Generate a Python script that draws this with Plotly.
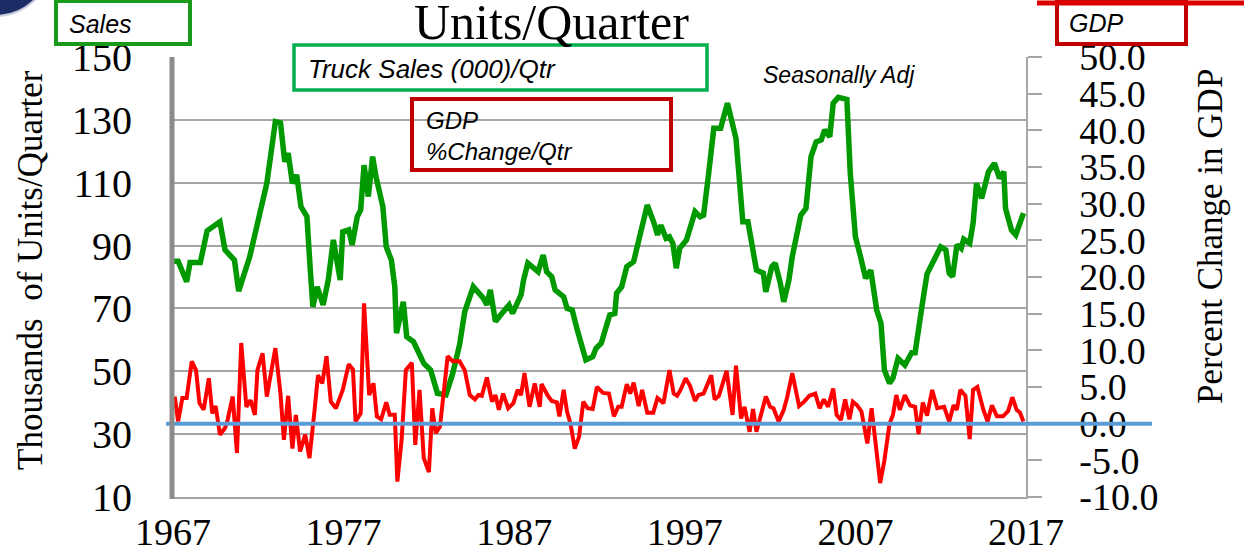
import plotly.graph_objects as go

# Truck sales, thousands of units per quarter (left axis)
truck_year = [
    1967.0, 1967.3, 1967.8, 1968.0, 1968.6, 1969.0, 1969.75, 1970.05, 1970.6, 1970.85,
    1971.5, 1972.1, 1972.5, 1973.0, 1973.3, 1973.55, 1973.75, 1974.0, 1974.25, 1974.5,
    1974.85, 1975.05, 1975.2, 1975.45, 1975.8, 1976.1, 1976.4, 1976.8, 1976.95, 1977.3,
    1977.5, 1977.8, 1978.0, 1978.2, 1978.45, 1978.7, 1978.9, 1979.3, 1979.5, 1979.8,
    1980.0, 1980.1, 1980.5, 1980.7, 1981.1, 1981.7, 1982.1, 1982.5, 1983.0, 1983.4,
    1983.8, 1984.1, 1984.6, 1985.2, 1985.4, 1985.6, 1985.9, 1986.2, 1986.7, 1986.9,
    1987.4, 1987.55, 1987.8, 1988.4, 1988.7, 1988.9, 1989.2, 1989.4, 1989.9, 1990.1,
    1990.4, 1990.7, 1991.0, 1991.2, 1991.6, 1991.8, 1992.1, 1992.4, 1992.6, 1992.9,
    1993.0, 1993.3, 1993.6, 1994.0, 1994.4, 1994.8, 1995.2, 1995.4, 1995.6, 1995.9,
    1996.1, 1996.3, 1996.5, 1996.7, 1997.1, 1997.6, 1997.9, 1998.1, 1998.4, 1998.7,
    1999.1, 1999.5, 2000.0, 2000.4, 2000.7, 2001.2, 2001.6, 2001.75, 2002.1, 2002.3,
    2002.6, 2002.8, 2003.1, 2003.3, 2003.8, 2004.1, 2004.4, 2004.7, 2005.0, 2005.2,
    2005.5, 2005.7, 2006.0, 2006.5, 2006.7, 2007.0, 2007.3, 2007.6, 2007.9, 2008.1,
    2008.25, 2008.5, 2008.7, 2009.0, 2009.2, 2009.5, 2009.9, 2010.3, 2010.5, 2010.9,
    2011.2, 2012.0, 2012.3, 2012.5, 2012.7, 2012.95, 2013.2, 2013.35, 2013.7, 2013.9,
    2014.1, 2014.4, 2014.8, 2015.15, 2015.45, 2015.7, 2015.8, 2016.15, 2016.4, 2016.85,
]
truck_sales = [
    85.0, 85.0, 78.5, 84.6, 84.6, 94.7, 97.6, 88.6, 85.4, 75.5,
    86.5, 101.3, 109.8, 129.4, 129.0, 116.7, 119.4, 109.8, 112.5, 102.4,
    99.2, 82.0, 70.5, 76.9, 71.1, 79.0, 91.8, 79.0, 94.4, 95.0,
    90.2, 99.2, 101.3, 115.6, 105.6, 118.3, 111.9, 102.4, 89.6, 85.4,
    76.9, 62.1, 72.1, 61.0, 59.4, 52.5, 50.4, 43.0, 42.5, 49.4,
    58.5, 69.0, 76.9, 73.2, 71.1, 75.9, 65.8, 67.9, 71.1, 68.4,
    74.3, 79.0, 84.4, 81.7, 87.0, 81.7, 80.1, 75.9, 73.7, 70.0,
    69.5, 63.1, 56.8, 53.6, 54.6, 57.3, 58.9, 65.3, 67.9, 68.4,
    74.8, 76.9, 83.3, 84.9, 93.9, 102.9, 97.1, 93.4, 96.5, 92.3,
    92.8, 90.7, 82.8, 89.1, 91.8, 100.8, 99.2, 99.7, 113.0, 127.3,
    127.3, 135.3, 124.1, 97.6, 97.6, 82.2, 81.2, 75.3, 83.3, 84.4,
    78.0, 72.1, 79.0, 86.5, 99.7, 101.8, 118.3, 123.0, 123.6, 126.8,
    124.6, 135.3, 137.2, 136.5, 113.0, 92.8, 86.5, 79.6, 82.2, 75.9,
    69.5, 65.3, 50.4, 46.2, 47.8, 54.1, 52.0, 55.9, 55.9, 70.6,
    81.0, 89.6, 88.6, 81.2, 80.1, 90.2, 89.1, 92.0, 90.7, 97.1,
    109.8, 105.0, 113.5, 116.2, 111.4, 113.5, 101.8, 94.9, 93.4, 100.3,
]

# GDP percent change per quarter (right axis)
gdp_year = [
    1967.1, 1967.3, 1967.55, 1967.8, 1968.1, 1968.35, 1968.55, 1968.8, 1969.1, 1969.3,
    1969.5, 1969.75, 1970.05, 1970.2, 1970.5, 1970.75, 1971.0, 1971.3, 1971.55, 1971.8,
    1971.95, 1972.25, 1972.5, 1973.0, 1973.3, 1973.5, 1973.75, 1974.0, 1974.2, 1974.45,
    1974.75, 1975.0, 1975.3, 1975.5, 1975.75, 1976.0, 1976.25, 1976.55, 1976.95, 1977.3,
    1977.55, 1977.7, 1978.0, 1978.2, 1978.5, 1978.75, 1978.95, 1979.2, 1979.5, 1979.7,
    1980.0, 1980.15, 1980.4, 1980.65, 1981.0, 1981.2, 1981.45, 1981.7, 1982.0, 1982.2,
    1982.4, 1982.65, 1983.1, 1983.4, 1983.8, 1984.1, 1984.4, 1984.7, 1984.9, 1985.1,
    1985.4, 1985.7, 1985.9, 1986.1, 1986.35, 1986.65, 1986.95, 1987.2, 1987.4, 1987.6,
    1987.9, 1988.2, 1988.5, 1988.6, 1988.95, 1989.2, 1989.5, 1989.65, 1989.9, 1990.1,
    1990.3, 1990.55, 1990.8, 1991.05, 1991.3, 1991.6, 1991.85, 1992.2, 1992.55, 1992.85,
    1993.1, 1993.3, 1993.6, 1993.8, 1994.0, 1994.3, 1994.5, 1994.8, 1995.15, 1995.4,
    1995.75, 1996.1, 1996.35, 1996.55, 1996.75, 1997.05, 1997.3, 1997.6, 1997.8, 1998.1,
    1998.55, 1998.75, 1999.0, 1999.45, 1999.8, 2000.0, 2000.3, 2000.5, 2000.8, 2001.0,
    2001.2, 2001.5, 2001.75, 2002.0, 2002.2, 2002.5, 2002.8, 2003.0, 2003.3, 2003.7,
    2004.0, 2004.3, 2004.65, 2004.9, 2005.15, 2005.4, 2005.7, 2005.9, 2006.15, 2006.4,
    2006.65, 2006.85, 2007.1, 2007.35, 2007.7, 2007.95, 2008.2, 2008.45, 2008.7, 2009.0,
    2009.2, 2009.4, 2009.6, 2009.9, 2010.2, 2010.5, 2010.7, 2010.95, 2011.2, 2011.5,
    2011.8, 2012.2, 2012.5, 2012.75, 2012.95, 2013.15, 2013.45, 2013.7, 2013.9, 2014.15,
    2014.5, 2014.75, 2015.0, 2015.3, 2015.65, 2015.95, 2016.2, 2016.45, 2016.65, 2016.85,
]
gdp_change = [
    3.7, 0.3, 3.5, 3.5, 8.5, 7.3, 2.8, 1.9, 6.2, 1.4,
    2.4, -1.5, -0.6, 0.5, 3.7, -4.0, 11.0, 2.3, 3.2, 1.2,
    7.3, 9.6, 3.7, 10.3, 4.1, -2.2, 3.8, -3.4, 1.2, -3.8,
    -1.5, -4.7, 1.9, 6.6, 5.5, 9.2, 3.0, 2.1, 4.6, 8.1,
    7.4, 0.3, 1.4, 16.4, 3.9, 5.5, 1.0, 0.6, 2.9, 1.2,
    1.2, -7.9, -2.2, 7.3, 8.3, -2.9, 4.6, -4.7, -6.6, 2.1,
    -1.3, -0.4, 9.2, 8.5, 8.5, 7.3, 3.9, 3.3, 3.9, 3.8,
    6.3, 3.0, 3.9, 1.9, 4.1, 2.1, 2.8, 4.6, 3.9, 6.9,
    2.3, 5.5, 2.3, 5.4, 3.9, 3.1, 2.9, 1.0, 4.6, 1.6,
    0.0, -3.4, -1.8, 3.0, 2.1, 2.0, 5.0, 4.2, 4.1, 1.0,
    2.3, 2.3, 5.4, 4.1, 5.6, 2.4, 4.6, 1.5, 1.5, 3.5,
    2.8, 7.3, 4.1, 3.8, 4.6, 6.2, 5.2, 3.1, 3.9, 4.1,
    6.6, 3.3, 3.8, 7.2, 1.2, 7.9, 0.7, 2.3, -1.1, 2.0,
    -1.1, 1.4, 3.7, 2.3, 2.1, 0.3, 1.9, 3.6, 6.9, 2.4,
    3.0, 3.8, 4.1, 2.1, 3.3, 2.3, 4.8, 1.2, 0.5, 3.3,
    0.6, 3.0, 2.5, 1.7, -2.7, 2.1, -3.4, -8.1, -5.0, 0.0,
    1.2, 3.9, 1.9, 3.9, 2.5, 2.3, -1.4, 2.9, 1.1, 4.6,
    2.1, 2.3, 0.3, 2.5, 1.9, 4.6, 3.8, -2.1, 4.6, 5.0,
    1.9, 0.3, 2.5, 1.0, 1.0, 1.7, 3.6, 1.9, 1.5, 0.3,
]

year_ticks = [1967, 1977, 1987, 1997, 2007, 2017]
sales_ticks = [10, 30, 50, 70, 90, 110, 130, 150]
gdp_ticks = [-10, -5, 0, 5, 10, 15, 20, 25, 30, 35, 40, 45, 50]

W, H = 1244, 550
L, R, T, B = 173, 1026, 57, 497   # plot-area edges in pixels


def fx(p):
    return (p - L) / (R - L)


def fy(p):
    return (B - p) / (B - T)


SERIF = "Liberation Serif"
SANS = "Liberation Sans"

fig = go.Figure()
fig.add_trace(go.Scatter(x=truck_year, y=truck_sales, mode="lines",
                         line=dict(color="#009900", width=5.5), yaxis="y"))
fig.add_trace(go.Scatter(x=gdp_year, y=gdp_change, mode="lines",
                         line=dict(color="#ff0000", width=4), yaxis="y2"))

shapes = [
    # zero line for GDP, running past the right axis
    dict(type="line", xref="paper", yref="y2", x0=fx(166), x1=fx(1152), y0=0, y1=0,
         line=dict(color="#5b9bd5", width=4), layer="above"),
    # heavy left axis bar
    dict(type="line", xref="paper", yref="paper", x0=fx(172), x1=fx(172), y0=fy(499), y1=1,
         line=dict(color="#8c8c8c", width=5), layer="above"),
    # label boxes
    dict(type="rect", xref="paper", yref="paper", x0=fx(56), x1=fx(190), y0=fy(44), y1=fy(1),
         line=dict(color="#1a9a1a", width=4)),
    dict(type="rect", xref="paper", yref="paper", x0=fx(294), x1=fx(707), y0=fy(90), y1=fy(45),
         line=dict(color="#00b050", width=3.5), fillcolor="white"),
    dict(type="rect", xref="paper", yref="paper", x0=fx(412), x1=fx(671), y0=fy(170), y1=fy(99),
         line=dict(color="#c00000", width=4)),
    dict(type="rect", xref="paper", yref="paper", x0=fx(1057), x1=fx(1186), y0=fy(44), y1=fy(1),
         line=dict(color="#c00000", width=4)),
    dict(type="line", xref="paper", yref="paper", x0=fx(1037), x1=fx(1250), y0=fy(3), y1=fy(3),
         line=dict(color="#dd0000", width=5)),
    # corner emblem
    dict(type="circle", xref="paper", yref="paper", x0=fx(-62), x1=fx(52), y0=fy(16), y1=fy(-98),
         line=dict(color="#c9cede", width=2), fillcolor="#1d2b66"),
]

annotations = [
    dict(text="Units/Quarter", x=fx(551), y=fy(22), xref="paper", yref="paper",
         showarrow=False, xanchor="center", yanchor="middle",
         font=dict(family=SERIF, size=50, color="black")),
    dict(text="Thousands  of Units/Quarter", x=fx(30), y=fy(270), xref="paper", yref="paper",
         showarrow=False, textangle=-90, xanchor="center", yanchor="middle",
         font=dict(family=SERIF, size=35, color="black")),
    dict(text="Percent Change in GDP", x=fx(1210), y=fy(237), xref="paper", yref="paper",
         showarrow=False, textangle=-90, xanchor="center", yanchor="middle",
         font=dict(family=SERIF, size=35, color="black")),
    dict(text="Sales", x=fx(67), y=fy(24), xref="paper", yref="paper",
         showarrow=False, xanchor="left", yanchor="middle",
         font=dict(family=SANS, size=25, style="italic", color="black")),
    dict(text="Truck Sales (000)/Qtr", x=fx(306), y=fy(69), xref="paper", yref="paper",
         showarrow=False, xanchor="left", yanchor="middle",
         font=dict(family=SANS, size=26, style="italic", color="black")),
    dict(text="GDP<br>%Change/Qtr", x=fx(424), y=fy(136), xref="paper", yref="paper",
         showarrow=False, xanchor="left", yanchor="middle", align="left",
         font=dict(family=SANS, size=24, style="italic", color="black")),
    dict(text="Seasonally Adj", x=fx(761), y=fy(75), xref="paper", yref="paper",
         showarrow=False, xanchor="left", yanchor="middle",
         font=dict(family=SANS, size=23, style="italic", color="black")),
    dict(text="GDP", x=fx(1067), y=fy(23), xref="paper", yref="paper",
         showarrow=False, xanchor="left", yanchor="middle",
         font=dict(family=SANS, size=25, style="italic", color="black")),
]

fig.update_layout(
    width=W, height=H,
    margin=dict(l=L, r=W - R, t=T, b=H - B, pad=0, autoexpand=False),
    paper_bgcolor="white", plot_bgcolor="white",
    showlegend=False,
    xaxis=dict(range=[1967, 2017], tickvals=year_ticks, ticktext=[str(v) for v in year_ticks],
               showgrid=False, zeroline=False, showline=True, linecolor="#a6a6a6", linewidth=2,
               ticks="", ticklabelstandoff=0, automargin=False,
               tickfont=dict(family=SERIF, size=38, color="black")),
    yaxis=dict(range=[10, 150], tickvals=sales_ticks, showgrid=True, gridcolor="#a6a6a6",
               gridwidth=1.5, zeroline=False, showline=False, ticks="",
               ticklabelstandoff=40, automargin=False,
               tickfont=dict(family=SERIF, size=40, color="black")),
    yaxis2=dict(range=[-10, 50], tickvals=gdp_ticks,
                ticktext=[f"{v:.1f}" for v in gdp_ticks], overlaying="y",
                side="right", showgrid=False, zeroline=False, showline=True,
                linecolor="#a6a6a6", linewidth=1.5, ticks="outside", ticklen=14,
                tickcolor="#a6a6a6", tickwidth=1.5, ticklabelstandoff=30, automargin=False,
                tickfont=dict(family=SERIF, size=38, color="black")),
    shapes=shapes,
    annotations=annotations,
)

fig.write_html("out.html")
